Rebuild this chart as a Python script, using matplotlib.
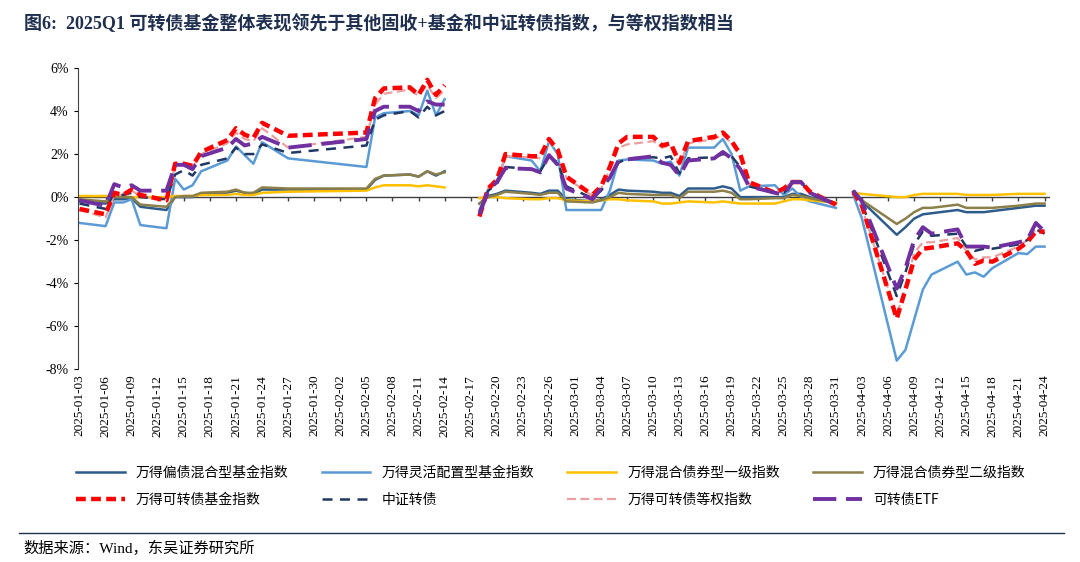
import numpy as np
import pandas as pd
import matplotlib
matplotlib.use("Agg")
import matplotlib.pyplot as plt
from matplotlib.lines import Line2D

plt.rcParams['font.family'] = ['Liberation Serif', 'Noto Sans CJK SC']

seg1_dates = ["2025-01-03","2025-01-06","2025-01-07","2025-01-08","2025-01-09","2025-01-10","2025-01-13","2025-01-14",
              "2025-01-15","2025-01-16","2025-01-17","2025-01-20","2025-01-21","2025-01-22","2025-01-23","2025-01-24",
              "2025-01-27","2025-02-05","2025-02-06","2025-02-07","2025-02-10","2025-02-11","2025-02-12","2025-02-13","2025-02-14"]
seg2_dates = ["2025-02-18","2025-02-19","2025-02-20","2025-02-21","2025-02-24","2025-02-25","2025-02-26","2025-02-27",
              "2025-02-28","2025-03-03","2025-03-04","2025-03-05","2025-03-06","2025-03-07","2025-03-10","2025-03-11",
              "2025-03-12","2025-03-13","2025-03-14","2025-03-17","2025-03-18","2025-03-19","2025-03-20","2025-03-21",
              "2025-03-24","2025-03-25","2025-03-26","2025-03-27","2025-03-28","2025-03-31"]
seg3_dates = ["2025-04-02","2025-04-03","2025-04-07","2025-04-08","2025-04-09","2025-04-10","2025-04-11","2025-04-14",
              "2025-04-15","2025-04-16","2025-04-17","2025-04-18","2025-04-21","2025-04-22","2025-04-23","2025-04-24"]

names = ["万得偏债混合型基金指数", "万得灵活配置型基金指数", "万得混合债券型一级指数", "万得混合债券型二级指数",
         "万得可转债基金指数", "中证转债", "万得可转债等权指数", "可转债ETF"]

# values in %
pianzhai = ([-0.2,-0.3,-0.1,-0.1,-0.05,-0.45,-0.6,0.0,0.0,0.0,0.15,0.2,0.3,0.2,0.15,0.35,0.35,0.35,0.8,1.0,1.05,0.95,1.2,1.0,1.2],
            [-0.3,0.05,0.15,0.3,0.2,0.15,0.3,0.3,-0.1,-0.2,-0.1,0.1,0.35,0.3,0.25,0.2,0.2,0.05,0.4,0.4,0.5,0.4,0.0,0.0,0.0,0.0,0.15,0.15,0.0,-0.3],
            [0.25,-0.2,-1.75,-1.4,-1.0,-0.8,-0.75,-0.6,-0.7,-0.7,-0.7,-0.65,-0.5,-0.45,-0.4,-0.4])
linghuo = ([-1.2,-1.35,-0.25,-0.25,-0.1,-1.3,-1.45,0.85,0.35,0.55,1.2,1.7,2.35,1.95,1.55,2.55,1.8,1.4,3.7,3.9,4.0,3.8,4.95,3.8,4.55],
           [-0.6,0.3,0.7,1.9,1.7,1.2,2.6,2.0,-0.6,-0.6,-0.6,0.3,1.7,1.75,1.7,1.55,1.65,1.0,2.3,2.3,2.7,2.0,0.3,0.5,0.55,0.1,0.4,0.0,-0.2,-0.5],
           [0.1,-1.0,-7.6,-7.1,-5.7,-4.3,-3.6,-3.0,-3.6,-3.5,-3.7,-3.3,-2.6,-2.65,-2.3,-2.3])
yiji = ([0.05,0.05,0.05,0.02,0.0,0.0,0.0,0.05,0.05,0.05,0.1,0.1,0.15,0.1,0.1,0.2,0.25,0.3,0.45,0.55,0.55,0.5,0.55,0.5,0.45],
        [-0.05,0.0,0.0,-0.05,-0.1,-0.1,-0.05,-0.05,-0.15,-0.2,-0.15,-0.1,-0.1,-0.15,-0.2,-0.3,-0.3,-0.25,-0.2,-0.25,-0.2,-0.25,-0.3,-0.3,-0.3,-0.2,-0.1,-0.1,-0.15,-0.25],
        [0.2,0.15,0.0,0.0,0.1,0.15,0.15,0.15,0.1,0.1,0.1,0.1,0.15,0.15,0.15,0.15])
erji = ([-0.1,-0.2,0.0,0.0,0.0,-0.35,-0.45,0.0,0.05,0.05,0.2,0.25,0.35,0.2,0.2,0.45,0.4,0.4,0.85,1.0,1.05,0.95,1.2,1.05,1.15],
        [-0.3,0.0,0.1,0.25,0.15,0.1,0.2,0.2,-0.2,-0.25,-0.15,0.0,0.2,0.15,0.1,0.1,0.1,-0.05,0.25,0.25,0.3,0.2,-0.1,-0.1,-0.05,-0.05,0.1,0.05,-0.05,-0.3],
        [0.25,-0.15,-1.25,-1.0,-0.7,-0.5,-0.5,-0.35,-0.5,-0.5,-0.5,-0.5,-0.4,-0.35,-0.3,-0.3])
kzz_fund = ([-0.55,-0.8,0.2,0.1,0.35,0.1,-0.15,1.55,1.55,1.45,2.1,2.65,3.2,2.9,2.75,3.45,2.85,3.0,4.6,5.05,5.1,4.75,5.45,4.75,5.2],
            [-0.9,0.4,0.8,2.0,1.9,1.9,2.7,2.2,0.95,0.1,0.5,1.4,2.5,2.8,2.8,2.4,2.5,1.6,2.6,2.8,3.0,2.6,2.0,0.7,0.2,0.4,0.7,0.7,0.25,-0.35],
            [0.25,-0.4,-5.65,-4.3,-2.9,-2.4,-2.35,-2.15,-2.5,-3.1,-2.95,-3.0,-2.4,-2.1,-1.6,-1.6])
zz_cb = ([-0.3,-0.55,0.2,0.1,0.2,0.0,-0.1,1.05,1.25,1.0,1.5,1.8,2.3,2.0,2.0,2.45,2.05,2.4,3.6,3.8,4.0,3.7,4.2,3.8,4.0],
         [-0.7,0.3,0.6,1.4,1.3,1.2,1.9,1.6,0.5,-0.05,0.3,0.9,1.6,1.8,1.85,1.8,1.9,1.1,1.8,1.85,2.0,1.9,1.4,0.5,0.2,0.2,0.6,0.7,0.2,-0.3],
         [0.3,-0.3,-4.6,-3.5,-2.2,-1.6,-1.8,-1.7,-2.3,-2.5,-2.4,-2.4,-2.2,-2.0,-1.5,-1.7])
kzz_eq = ([-0.6,-0.95,0.1,0.1,0.3,0.05,-0.2,1.5,1.5,1.4,2.0,2.5,3.0,2.7,2.6,3.2,2.3,2.8,4.3,4.8,5.0,4.7,5.2,4.6,4.95],
          [-0.9,0.4,0.7,1.9,1.85,1.8,2.6,2.1,0.9,0.05,0.4,1.3,2.3,2.45,2.6,2.3,2.4,1.5,2.5,2.7,2.9,2.5,1.9,0.6,0.2,0.4,0.7,0.7,0.2,-0.4],
          [0.25,-0.5,-5.5,-4.2,-2.6,-2.1,-2.1,-1.9,-2.5,-2.9,-2.8,-2.8,-2.3,-2.0,-1.5,-1.6])
kzz_etf = ([-0.15,-0.4,0.6,0.45,0.55,0.3,0.3,1.5,1.5,1.3,1.9,2.3,2.7,2.4,2.5,2.8,2.3,2.7,4.0,4.2,4.2,4.0,4.45,4.3,4.3],
           [-0.8,0.3,0.7,1.35,1.3,1.15,1.95,1.5,0.4,-0.1,0.4,0.9,1.7,1.75,1.9,1.6,1.5,1.0,1.7,1.8,2.1,1.8,1.3,0.5,0.2,0.1,0.7,0.7,0.2,-0.35],
           [0.3,-0.2,-4.25,-3.3,-2.0,-1.4,-1.7,-1.5,-2.3,-2.3,-2.3,-2.35,-2.1,-2.0,-1.2,-1.6])

series = [pianzhai, linghuo, yiji, erji, kzz_fund, zz_cb, kzz_eq, kzz_etf]
styles = [
    dict(color="#2E5C8A", lw=1.8, ls="-"),
    dict(color="#5B9BD5", lw=1.8, ls="-"),
    dict(color="#FFC000", lw=1.8, ls="-"),
    dict(color="#8C7F4A", lw=1.8, ls="-"),
    dict(color="#FF0000", lw=3.2, ls=(0, (2.2, 1.2))),
    dict(color="#1F3864", lw=1.8, ls=(0, (4, 3))),
    dict(color="#E8A0A0", lw=1.6, ls=(0, (4, 2))),
    dict(color="#7030A0", lw=2.8, ls=(0, (6, 2.5))),
]
z = [2, 2, 2, 2, 5, 4, 3, 6]

seg_dates = [pd.to_datetime(seg1_dates), pd.to_datetime(seg2_dates), pd.to_datetime(seg3_dates)]

fig = plt.figure(figsize=(10.8, 5.62), dpi=100)
ax = fig.add_axes([0.072, 0.343, 0.9, 0.536])

for s, st, zz in zip(series, styles, z):
    for d, v in zip(seg_dates, s):
        ax.plot(d, v, zorder=zz, **st)

ax.set_ylim(-8, 6)
ax.set_yticks(np.arange(-8, 7, 2))
ax.set_yticklabels([f"{v}%" for v in range(-8, 7, 2)], fontsize=10)
start = pd.Timestamp("2025-01-03"); end = pd.Timestamp("2025-04-24")
ax.set_xlim(start - pd.Timedelta(days=0.2), end + pd.Timedelta(days=0.6))
ticks = pd.date_range(start, end, freq="3D")
ax.set_xticks(ticks)
ax.set_xticklabels([t.strftime("%Y-%m-%d") for t in ticks], rotation=90, fontsize=9.5)
ax.tick_params(axis='x', length=0, pad=4)
ax.tick_params(axis='y', length=3, direction='out')
for sp in ["top", "right", "bottom"]:
    ax.spines[sp].set_visible(False)
ax.spines["left"].set_color("#404040")
ax.axhline(0, color="#404040", lw=1, zorder=1)
ax.vlines(ticks, -0.18, 0, color="#404040", lw=1, zorder=1)

handles = [Line2D([0], [0], **st) for st in styles]
order = [0, 4, 1, 5, 2, 6, 3, 7]
fig.legend([handles[i] for i in order], [names[i] for i in order], loc="lower center",
           bbox_to_anchor=(0.51, 0.075), ncol=4, frameon=False,
           handlelength=3.5, columnspacing=2.4, handletextpad=0.8, labelspacing=1.0,
           prop={'family': ['Noto Sans CJK SC'], 'size': 10})

fig.text(0.022, 0.958, "图6:  2025Q1 可转债基金整体表现领先于其他固收+基金和中证转债指数，与等权指数相当",
         fontsize=13, fontweight="bold", color="#1F2F4F", va="center")
fig.add_artist(Line2D([0.018, 0.985], [0.052, 0.052], color="#1F2F4F", lw=1))
fig.text(0.022, 0.025, "数据来源：Wind，东吴证券研究所", fontsize=11, va="center")

fig.savefig("out.png", dpi=100)
